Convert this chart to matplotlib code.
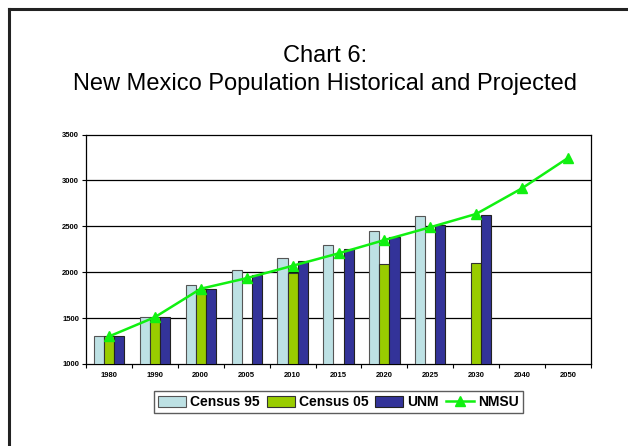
import matplotlib
matplotlib.use("Agg")
import matplotlib.pyplot as plt
import numpy as np
from matplotlib.lines import Line2D

years = ["1980", "1990", "2000", "2005", "2010", "2015", "2020", "2025", "2030", "2040", "2050"]
census95 = [1300, 1510, 1860, 2020, 2160, 2300, 2450, 2610, None, None, None]
census05 = [1300, 1510, 1820, None, 1990, None, 2085, None, 2100, None, None]
unm = [1300, 1510, 1820, 1970, 2120, 2250, 2380, 2510, 2625, None, None]
nmsu = [1300, 1510, 1820, 1935, 2070, 2205, 2350, 2490, 2635, 2915, 3245]

plt.rcParams['font.family'] = ['Liberation Sans', 'DejaVu Sans']

W, H = 628, 446
fig = plt.figure(figsize=(W / 100, H / 100), dpi=100)

# outer frame (top and left lines)
fig.add_artist(Line2D([9 / W, 9 / W], [0, 1 - 9 / H], color='#222222', lw=2.2, transform=fig.transFigure))
fig.add_artist(Line2D([9 / W, 1], [1 - 9 / H, 1 - 9 / H], color='#222222', lw=2.2, transform=fig.transFigure))

fig.text(325 / W, 1 - 62 / H, "Chart 6:", ha='center', va='baseline', fontsize=17)
fig.text(325 / W, 1 - 90 / H, "New Mexico Population Historical and Projected", ha='center', va='baseline', fontsize=17)

left, right, top, bottom = 86, 591, 134.5, 364
ax = fig.add_axes([left / W, 1 - bottom / H, (right - left) / W, (bottom - top) / H])

x = np.arange(len(years))
bw = 0.22

def vals(a):
    return np.array([np.nan if v is None else v for v in a], dtype=float)

c95 = vals(census95)
c05 = vals(census05)
u = vals(unm)
n = vals(nmsu)

base = 1000
h1 = ax.bar(x - bw, c95 - base, bw, bottom=base, color='#BDE1E4', edgecolor='#555555', linewidth=0.8, label='Census 95', zorder=3)
h2 = ax.bar(x, c05 - base, bw, bottom=base, color='#99CC00', edgecolor='#333333', linewidth=0.8, label='Census 05', zorder=3)
h3 = ax.bar(x + bw, u - base, bw, bottom=base, color='#333399', edgecolor='#222222', linewidth=0.8, label='UNM', zorder=3)
h4, = ax.plot(x, n, color='#11F011', lw=1.8, marker='^', markersize=6.5, label='NMSU', zorder=4)

ax.set_xlim(-0.5, len(years) - 0.5)
ax.set_ylim(1000, 3500)
ax.set_yticks([1000, 1500, 2000, 2500, 3000, 3500])
ax.set_yticklabels([str(v) for v in [1000, 1500, 2000, 2500, 3000, 3500]], fontsize=5.5, fontweight='bold')
ax.set_xticks(x)
ax.set_xticklabels(years, fontsize=5.5, fontweight='bold')
ax.set_xticks(np.arange(-0.5, len(years)), minor=True)
ax.tick_params(axis='x', which='major', length=0, pad=6)
ax.tick_params(axis='x', which='minor', length=3, width=0.8, direction='out')
ax.tick_params(axis='y', length=3, width=0.8, direction='out', pad=2)

for yv in [1500, 2000, 2500, 3000]:
    ax.axhline(yv, color='black', lw=0.9, zorder=1)
for s in ax.spines.values():
    s.set_linewidth(0.9)
    s.set_color('black')

leg = ax.legend([h1, h2, h3, h4], ['Census 95', 'Census 05', 'UNM', 'NMSU'],
                loc='upper center', bbox_to_anchor=(0.5, -0.118), ncol=4, frameon=True, fancybox=False,
                prop={'size': 10, 'weight': 'bold'}, handlelength=2.0, handletextpad=0.3,
                columnspacing=0.5, borderpad=0.3, handleheight=0.9, borderaxespad=0)
leg.get_frame().set_edgecolor('#333333')
leg.get_frame().set_linewidth(1.0)

fig.savefig("out.png", dpi=100)
